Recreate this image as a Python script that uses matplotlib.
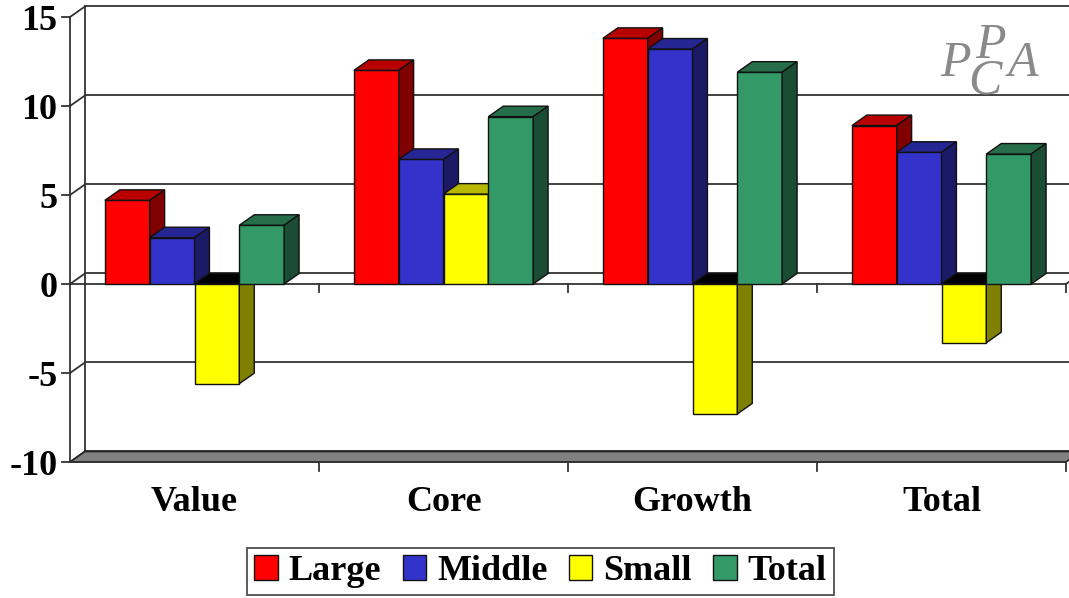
import matplotlib
matplotlib.use("Agg")
import matplotlib.pyplot as plt
from matplotlib.patches import Polygon, Patch
from matplotlib.colors import to_rgb

categories = ["Value", "Core", "Growth", "Total"]
series = ["Large", "Middle", "Small", "Total"]
large = [4.7, 12.0, 13.8, 8.9]
middle = [2.6, 7.0, 13.2, 7.4]
small = [-5.6, 5.05, -7.3, -3.3]
total = [3.3, 9.4, 11.9, 7.3]
y_ticks = [-10, -5, 0, 5, 10, 15]

colors = ["#ff0000", "#3333cc", "#ffff00", "#339966"]
values = [large, middle, small, total]

W, H = 1069, 598
fig = plt.figure(figsize=(W / 100, H / 100), dpi=100)
ax = fig.add_axes([70 / W, (H - 462) / H, 996 / W, (462 - 17) / H])
ax.set_xlim(0, 4)
ax.set_ylim(-10, 15)
ax.axis("off")

DX, DY = 0.06, 0.59
FONT = "Liberation Serif"
line_kw = dict(color="#333333", lw=1.3, clip_on=False)


def shade(c, f):
    r, g, b = to_rgb(c)
    return (r * f, g * f, b * f)


# back wall, gridlines and floor
ax.plot([DX, DX], [-10 + DY, 15 + DY], zorder=1, **line_kw)
for y in y_ticks:
    ax.plot([DX, 4.2], [y + DY, y + DY], zorder=1, **line_kw)
    ax.plot([0, DX], [y, y + DY], zorder=1, **line_kw)
    ax.plot([-0.032, 0], [y, y], zorder=1, **line_kw)
    ax.text(-0.05, y - 0.25, str(y), ha="right", va="center", fontsize=26,
            fontweight="bold", family=FONT)

floor = Polygon([(0, -10), (4, -10), (4 + DX, -10 + DY), (DX, -10 + DY)],
                closed=True, facecolor="#808080", edgecolor="#222222", lw=1.2,
                zorder=1, clip_on=False)
ax.add_patch(floor)

# front axes
ax.plot([0, 0], [-10, 15], zorder=2, **line_kw)
ax.plot([0, 4], [-10, -10], zorder=2, **line_kw)
ax.plot([0, 4], [0, 0], zorder=2, **line_kw)
ax.plot([4, 4 + DX], [0, DY], zorder=2, **line_kw)
for i in range(1, 5):
    ax.plot([i, i], [0, -0.45], zorder=2, **line_kw)
    ax.plot([i, i], [-10, -10.5], zorder=2, **line_kw)

for i, cat in enumerate(categories):
    ax.text(i + 0.5, -12.25, cat, ha="center", va="center", fontsize=26,
            fontweight="bold", family=FONT)

# 3-D style bars
bw = 0.18
z = 3.0
for i in range(len(categories)):
    for j, vals in enumerate(values):
        v = vals[i]
        c = colors[j]
        x0 = i + 0.14 + j * bw
        x1 = x0 + bw
        ax.bar(x0, v, width=bw, align="edge", color=c, edgecolor="#111111",
               lw=1, zorder=z, clip_on=False)
        top_y = max(v, 0)
        top_col = shade(c, 0.72) if v >= 0 else "#000000"
        ax.add_patch(Polygon([(x0, top_y), (x1, top_y), (x1 + DX, top_y + DY),
                              (x0 + DX, top_y + DY)], closed=True,
                             facecolor=top_col, edgecolor="#111111", lw=1,
                             zorder=z, clip_on=False))
        ax.add_patch(Polygon([(x1, 0), (x1, v), (x1 + DX, v + DY), (x1 + DX, DY)],
                             closed=True, facecolor=shade(c, 0.5),
                             edgecolor="#111111", lw=1, zorder=z, clip_on=False))
        z += 0.01

# logo
logo_kw = dict(color="#8a8a8a", fontsize=36, style="italic", family=FONT,
               va="baseline")
fig.text(940 / W, 1 - 76 / H, "P", **logo_kw)
fig.text(975 / W, 1 - 58 / H, "P", **logo_kw)
fig.text(968 / W, 1 - 94 / H, "C", **logo_kw)
fig.text(1008 / W, 1 - 76 / H, "A", **logo_kw)

handles = [Patch(facecolor=c, edgecolor="#111111", label=s)
           for c, s in zip(colors, series)]
leg = fig.legend(handles=handles, loc="upper center", ncol=4,
                 bbox_to_anchor=(540.5 / W, 1 - 548 / H),
                 prop={"family": FONT, "weight": "bold", "size": 26},
                 frameon=True, fancybox=False, edgecolor="#222222",
                 handlelength=0.65, handleheight=0.65, handletextpad=0.3,
                 columnspacing=0.6, borderpad=0.2, borderaxespad=0)
leg.get_frame().set_linewidth(1.3)

fig.savefig("out.png", dpi=100)
